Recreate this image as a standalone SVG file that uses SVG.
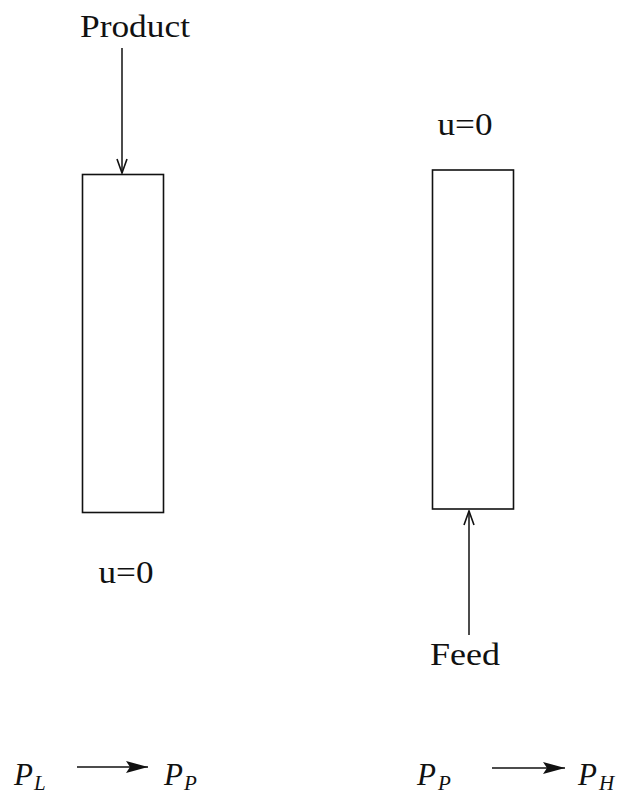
<svg xmlns="http://www.w3.org/2000/svg" width="624" height="798" viewBox="0 0 624 798">
<style>
text{font-family:'Liberation Serif','Times New Roman','DejaVu Serif',serif;fill:#111}
.t{font-size:31px}
.m{font-style:italic;font-size:31px}
.s{font-style:italic;font-size:21px}
.col{fill:#fff;stroke:#111;stroke-width:1.6}
.ln{stroke:#111;stroke-width:1.5;fill:none}
</style>
<defs>
<marker id="open" viewBox="0 0 16 12" refX="15" refY="6" markerWidth="16" markerHeight="12" markerUnits="userSpaceOnUse" orient="auto">
<path d="M1,1 L15,6 L1,11" fill="none" stroke="#111" stroke-width="1.6"/>
</marker>
<marker id="solid" viewBox="0 0 22 12" refX="22" refY="6" markerWidth="22" markerHeight="12" markerUnits="userSpaceOnUse" orient="auto">
<path d="M0,0 L22,6 L0,12 L4,6 Z" fill="#111"/>
</marker>
</defs>
<g id="left-column">
<rect class="col" x="82.5" y="174.5" width="81" height="338"/>
</g>
<g id="right-column">
<rect class="col" x="432.5" y="170" width="81" height="339"/>
</g>
<g id="product"><text class="t" x="135" y="37" text-anchor="middle" textLength="110" lengthAdjust="spacingAndGlyphs">Product</text></g>
<g id="u0-right"><text class="t" x="465" y="135" text-anchor="middle" textLength="55" lengthAdjust="spacingAndGlyphs">u=0</text></g>
<g id="u0-left"><text class="t" x="126" y="583" text-anchor="middle" textLength="55" lengthAdjust="spacingAndGlyphs">u=0</text></g>
<g id="feed"><text class="t" x="465" y="665" text-anchor="middle" textLength="70" lengthAdjust="spacingAndGlyphs">Feed</text></g>
<g id="PL"><text class="m" x="14" y="785">P</text><text class="s" x="34" y="790">L</text></g>
<g id="PP1"><text class="m" x="164" y="785">P</text><text class="s" x="184" y="790">P</text></g>
<g id="PP2"><text class="m" x="417" y="785">P</text><text class="s" x="438" y="790">P</text></g>
<g id="PH"><text class="m" x="578" y="785">P</text><text class="s" x="599" y="790">H</text></g>
<g id="connectors">
<line class="ln" x1="122" y1="48" x2="122" y2="173" marker-end="url(#open)"/>
<line class="ln" x1="469" y1="635" x2="469" y2="511" marker-end="url(#open)"/>
<line class="ln" x1="77" y1="767" x2="148" y2="767" marker-end="url(#solid)"/>
<line class="ln" x1="492" y1="768" x2="565" y2="768" marker-end="url(#solid)"/>
</g>
</svg>
